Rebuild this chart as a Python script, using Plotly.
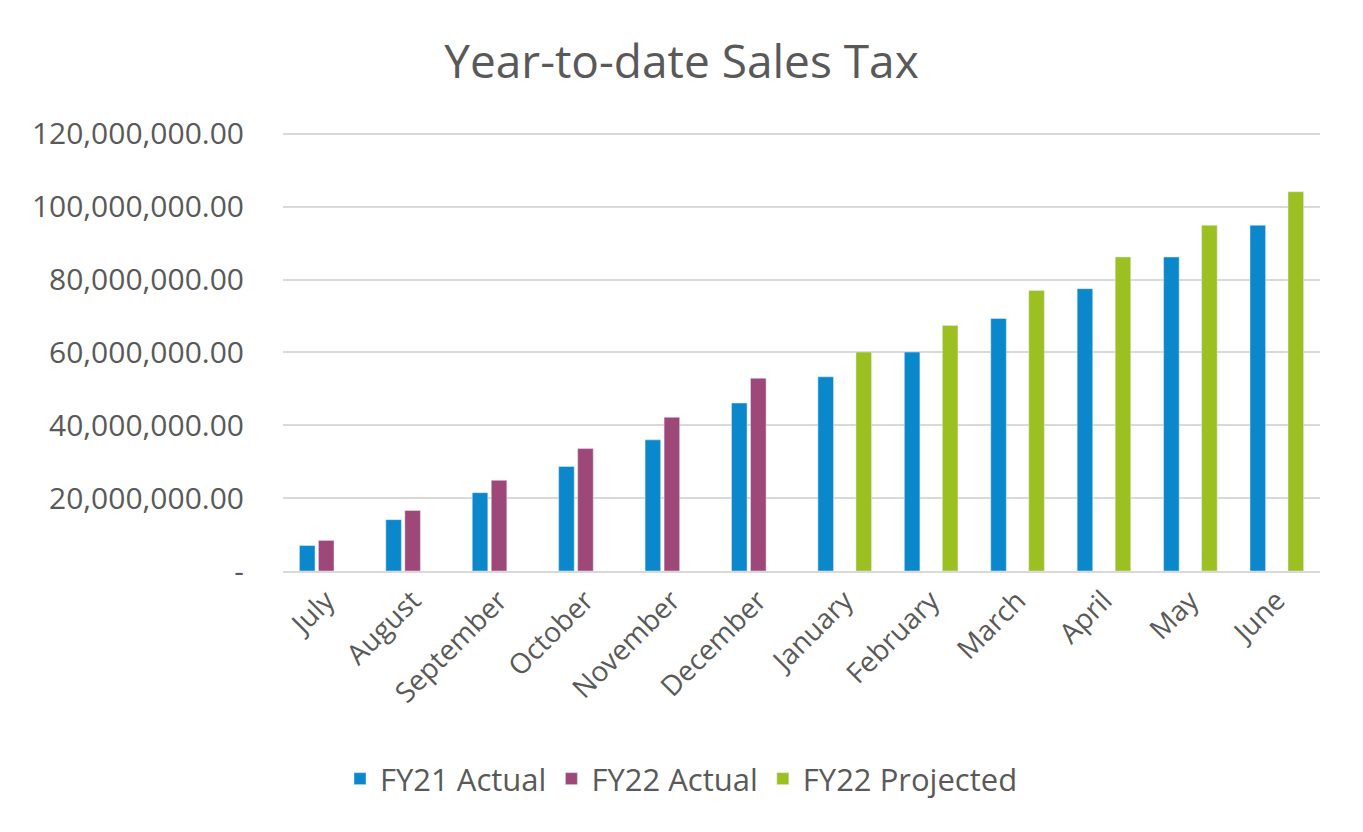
import plotly.graph_objects as go

months = ["July", "August", "September", "October", "November", "December",
          "January", "February", "March", "April", "May", "June"]
fy21_actual = [7.0e6, 14.1e6, 21.5e6, 28.7e6, 36.0e6, 46.1e6,
               53.3e6, 60.1e6, 69.3e6, 77.5e6, 86.2e6, 94.9e6]
fy22_actual = [8.4e6, 16.6e6, 24.9e6, 33.6e6, 42.2e6, 52.9e6,
               None, None, None, None, None, None]
fy22_projected = [None, None, None, None, None, None,
                  60.1e6, 67.4e6, 77.0e6, 86.2e6, 94.9e6, 104.1e6]
y_tickvals = [0, 20e6, 40e6, 60e6, 80e6, 100e6, 120e6]
y_ticktext = ["-", "20,000,000.00", "40,000,000.00", "60,000,000.00",
              "80,000,000.00", "100,000,000.00", "120,000,000.00"]

FONT = "Open Sans"
TXT = "#595959"

# page body has an 8px margin, so the figure is drawn 8px in from the window edge
W, H = 1347, 816

fig = go.Figure()
fig.add_trace(go.Bar(name="FY21 Actual", x=months, y=fy21_actual, marker_color="#0A88CB"))
fig.add_trace(go.Bar(name="FY22 Actual", x=months, y=fy22_actual, marker_color="#9D4879"))
fig.add_trace(go.Bar(name="FY22 Projected", x=months, y=fy22_projected, marker_color="#9CBF21"))

fig.update_layout(
    width=W, height=H,
    margin=dict(l=275, r=35, t=124, b=253, autoexpand=False),
    paper_bgcolor="white", plot_bgcolor="white",
    barmode="group", bargap=0.34, bargroupgap=0.18,
    font=dict(family=FONT, color=TXT),
    title=dict(text="Year-to-date Sales Tax", font=dict(family=FONT, size=46, color=TXT),
               x=0.5, xref="container", xanchor="center",
               y=1 - 54 / H, yref="container", yanchor="middle"),
    legend=dict(orientation="h", xref="container", yref="container",
                x=0.5, xanchor="center", y=1 - 771 / H, yanchor="middle",
                font=dict(family=FONT, size=31, color=TXT), itemwidth=30,
                traceorder="normal"),
    showlegend=True,
)
fig.update_xaxes(showgrid=False, tickangle=-45, tickfont=dict(family=FONT, size=28, color=TXT),
                 showline=True, linecolor="#D9D9D9", linewidth=2, ticks="",
                 range=[-0.5, 11.5])
fig.update_yaxes(range=[0, 120.5e6], tickvals=y_tickvals, ticktext=y_ticktext,
                 showgrid=True, gridcolor="#D9D9D9", gridwidth=2, zeroline=False,
                 tickfont=dict(family=FONT, size=30, color=TXT), ticks="",
                 ticklabelstandoff=38)

fig.write_html("out.html")
